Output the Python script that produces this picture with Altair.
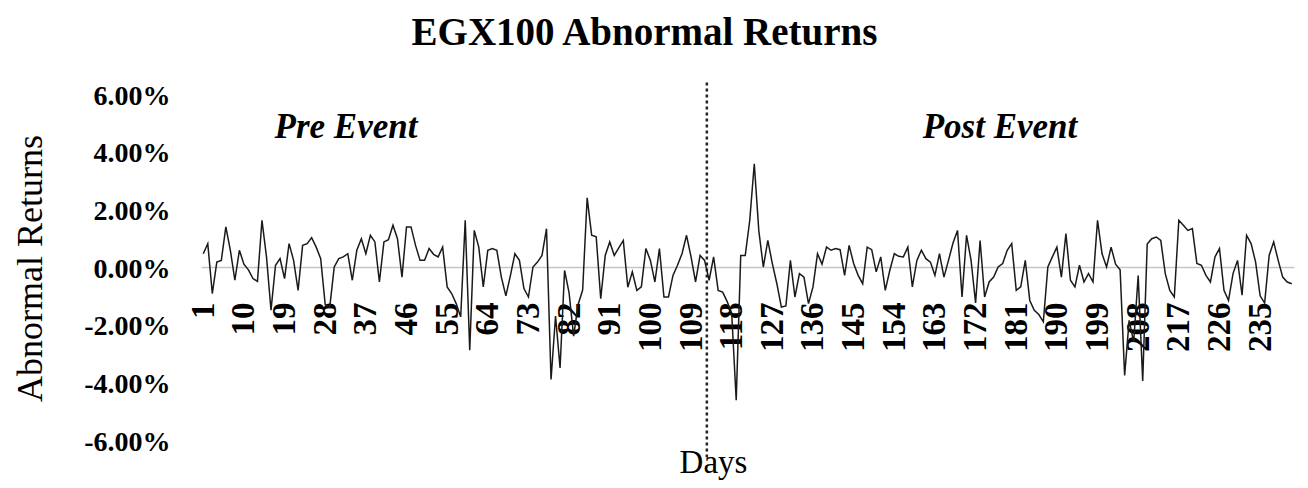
import altair as alt
import pandas as pd

# ---- data ----
days = list(range(1, 243))
abnormal_returns = [
    0.46, 0.81, -0.92, 0.17, 0.23, 1.39, 0.58, -0.46, 0.58, 0.10,
    -0.10, -0.40, -0.50, 1.62, 0.35, -1.50, 0.06, 0.29, -0.40, 0.81,
    0.23, -0.81, 0.75, 0.81, 1.02, 0.69, 0.29, -1.30, -1.40, 0.00,
    0.29, 0.35, 0.46, -0.46, 0.58, 0.98, 0.46, 1.10, 0.87, -0.52,
    0.87, 0.95, 1.45, 0.98, -0.35, 1.39, 1.39, 0.75, 0.23, 0.23,
    0.64, 0.44, 0.35, 0.69, -0.69, -0.92, -1.27, -1.73, 1.62, -2.89,
    1.27, 0.69, -0.69, 0.58, 0.64, 0.58, -0.35, -1.00, -0.30, 0.46,
    0.23, -0.75, -1.04, 0.00, 0.17, 0.40, 1.33, -3.90, -1.70, -3.50,
    -0.12, -0.90, -2.40, -1.30, -0.80, 2.40, 1.10, 1.05, -1.10, 0.40,
    0.87, 0.40, 0.66, 0.92, -0.70, -0.17, -0.81, -0.69, 0.64, 0.23,
    -0.52, 0.64, -1.04, -1.04, -0.29, 0.06, 0.46, 1.10, 0.35, -0.52,
    0.40, 0.23, -0.46, 0.35, -0.81, -0.87, -1.20, -1.60, -4.62, 0.40,
    0.40, 1.62, 3.58, 1.27, 0.00, 0.92, 0.12, -0.58, -1.39, -1.35,
    0.23, -1.04, -0.23, -0.35, -1.27, -0.69, 0.46, 0.10, 0.69, 0.58,
    0.64, 0.60, -0.29, 0.75, 0.12, -0.29, -0.58, 0.69, 0.60, -0.17,
    0.35, -0.81, -0.12, 0.46, 0.37, 0.35, 0.69, -0.69, 0.23, 0.58,
    0.29, 0.17, -0.29, 0.46, -0.35, 0.23, 0.83, 1.27, -1.04, 1.10,
    0.23, -1.25, 0.92, -1.04, -0.52, -0.35, 0.00, 0.12, 0.58, 0.81,
    -0.81, -0.69, 0.23, -1.16, -1.50, -1.65, -1.90, 0.00, 0.35, 0.69,
    -0.35, 1.16, -0.46, -0.69, 0.06, -0.52, -0.23, -0.52, 1.62, 0.46,
    0.00, 0.69, 0.10, -0.10, -3.76, -1.85, -2.60, -0.30, -3.95, 0.80,
    0.98, 1.04, 0.92, -0.23, -0.81, -1.04, 1.62, 1.45, 1.27, 1.33,
    0.12, 0.06, -0.29, -0.52, 0.35, 0.64, -0.81, -1.16, -0.23, 0.23,
    -0.98, 1.10, 0.81, 0.17, -1.00, -1.25, 0.40, 0.87, 0.23, -0.35,
    -0.52, -0.58,
]
x_tick_values = [1, 10, 19, 28, 37, 46, 55, 64, 73, 82, 91, 100, 109, 118,
                 127, 136, 145, 154, 163, 172, 181, 190, 199, 208, 217, 226, 235]
y_tick_values = [-6, -4, -2, 0, 2, 4, 6]
event_day = [112.5]
annot_text = ["Pre Event", "Post Event"]
annot_day = [32.6, 177.4]
annot_value = [4.85, 4.85]

SERIF = "Liberation Serif"
W, H = 1093, 346

df = pd.DataFrame({"day": days, "ar": abnormal_returns})
rule_df = pd.DataFrame({"day": event_day})
annot_df = pd.DataFrame({"day": annot_day, "ar": annot_value, "label": annot_text})

x_scale = alt.Scale(domain=[0.5, 242.5], nice=False, zero=False)
y_scale = alt.Scale(domain=[-6, 6], nice=False, zero=False)

x_axis = alt.Axis(
    values=x_tick_values, title="Days", offset=-H / 2,
    domainColor="#c6c6c6", domainWidth=1.5, ticks=False, tickSize=0, grid=False,
    labelAngle=270, labelFont=SERIF, labelFontSize=33, labelFontWeight="bold",
    labelColor="black", labelPadding=35, labelOverlap=False, labelFlush=False,
    titleFont=SERIF, titleFontSize=33, titleFontWeight="normal", titleColor="black",
    titleX=512, titleY=205, titleBaseline="alphabetic", titleAlign="center",
)
y_axis = alt.Axis(
    values=y_tick_values, title="Abnormal Returns",
    domain=False, ticks=False, tickSize=0, grid=False,
    labelFont=SERIF, labelFontSize=28, labelFontWeight="bold", labelColor="black",
    labelPadding=31, labelOffset=2,
    labelExpr="replace(format(datum.value, '.2f'), '\u2212', '-') + '%'",
    titleFont=SERIF, titleFontSize=36, titleFontWeight="normal", titleColor="black",
    titleX=-171, titleY=174, titleAngle=270, titleBaseline="middle", titleAlign="center",
)

line = alt.Chart(df).mark_line(color="#1a1a1a", strokeWidth=1.5).encode(
    x=alt.X("day:Q", scale=x_scale, axis=x_axis),
    y=alt.Y("ar:Q", scale=y_scale, axis=y_axis),
)

rule = alt.Chart(rule_df).mark_rule(
    color="#222222", strokeWidth=2.5, strokeDash=[3, 3]
).encode(
    x=alt.X("day:Q", scale=x_scale),
    y=alt.datum(6.4),
    y2=alt.datum(-6.6),
)

annot = alt.Chart(annot_df).mark_text(
    font=SERIF, fontSize=35, fontWeight="bold", fontStyle="italic",
    color="black", align="center", baseline="middle",
).encode(
    x=alt.X("day:Q", scale=x_scale),
    y=alt.Y("ar:Q", scale=y_scale),
    text="label:N",
)

chart = alt.layer(rule, line, annot).properties(
    width=W, height=H,
    background="white",
    title=alt.TitleParams(
        text="EGX100 Abnormal Returns", font=SERIF, fontSize=39, fontWeight="bold",
        color="black", anchor="middle", frame="group", baseline="alphabetic",
        offset=-3, dx=-103,
    ),
    padding={"left": 193, "top": 86, "right": 6, "bottom": 40},
    autosize=alt.AutoSizeParams(type="none"),
).configure_view(stroke=None, fill="white")

chart.save("out.html", embed_options={"renderer": "svg", "actions": False})
